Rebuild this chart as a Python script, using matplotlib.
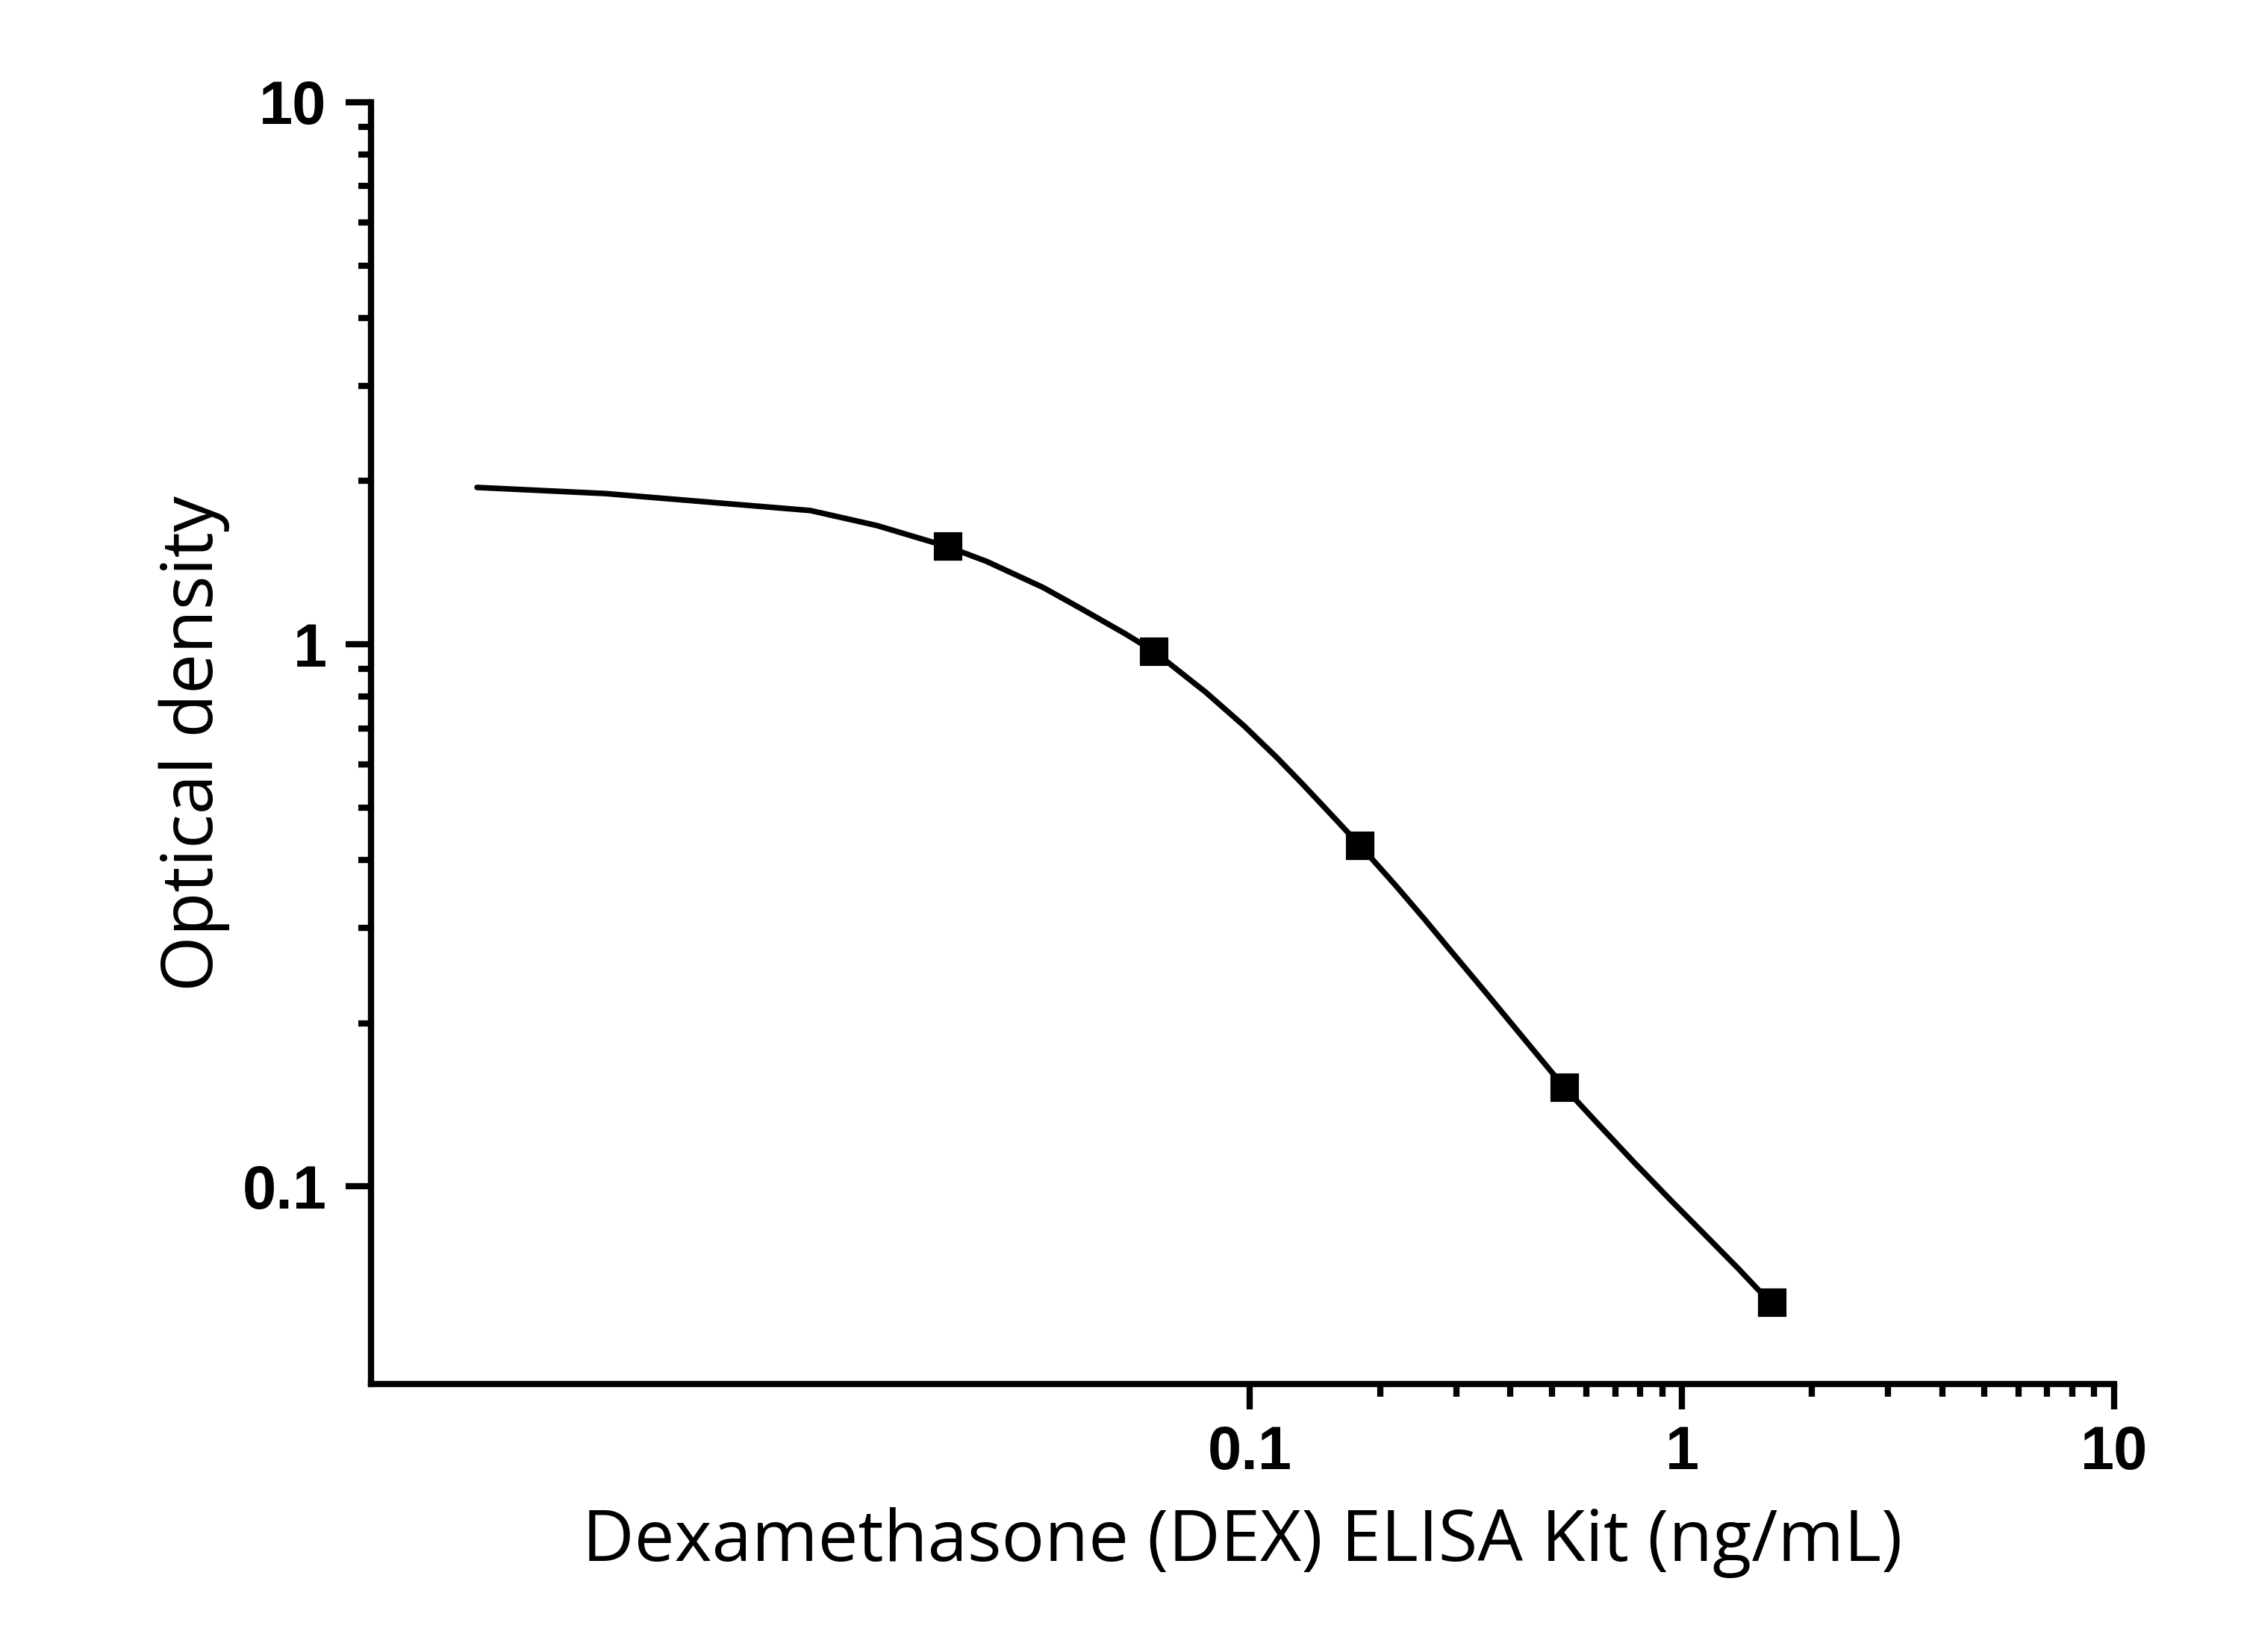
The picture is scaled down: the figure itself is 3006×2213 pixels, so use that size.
import matplotlib
matplotlib.use("Agg")
import matplotlib.pyplot as plt
from matplotlib.ticker import FixedLocator, NullFormatter

# standard points (ng/mL, OD)
conc = [0.02, 0.06, 0.18, 0.535, 1.618]
od = [1.515, 0.97, 0.425, 0.152, 0.061]

# fitted curve
curve_x = [0.001625, 0.00322, 0.00961, 0.01369, 0.0199, 0.02457, 0.0332, 0.0407, 0.0513,
           0.06, 0.0791, 0.0969, 0.1154, 0.131, 0.1488, 0.18, 0.218, 0.2536, 0.295,
           0.3527, 0.422, 0.535, 0.633, 0.775, 0.949, 1.129, 1.353, 1.618]
curve_y = [1.947, 1.897, 1.765, 1.656, 1.515, 1.422, 1.273, 1.163, 1.047,
           0.97, 0.815, 0.707, 0.618, 0.557, 0.500, 0.425, 0.358, 0.311, 0.269,
           0.227, 0.191, 0.152, 0.1315, 0.1107, 0.0937, 0.0815, 0.0704, 0.0605]

x_major = [0.1, 1, 10]
x_labels = ["0.1", "1", "10"]
y_major = [0.1, 1, 10]
y_labels = ["0.1", "1", "10"]

tick_font = "Liberation Sans"
label_font = "Open Sans"

fig = plt.figure(figsize=(10.02, 7.377), dpi=300)
ax = fig.add_axes([0.1653, 0.1622, 0.7768, 0.7759])

ax.plot(curve_x, curve_y, color="black", lw=1.8, solid_capstyle="round", solid_joinstyle="round", zorder=2)
ax.plot(conc, od, ls="none", marker="s", ms=8.2, color="black", zorder=3)

ax.set_xscale("log")
ax.set_yscale("log")
ax.set_xlim(0.000923, 10)
ax.set_ylim(0.0432, 10)

ax.xaxis.set_major_locator(FixedLocator(x_major))
ax.set_xticklabels(x_labels)
ax.yaxis.set_major_locator(FixedLocator(y_major))
ax.set_yticklabels(y_labels)

minor = [m * d for d in (0.1, 1) for m in range(2, 10)]
ax.xaxis.set_minor_locator(FixedLocator(minor))
ax.yaxis.set_minor_locator(FixedLocator(minor))
ax.xaxis.set_minor_formatter(NullFormatter())
ax.yaxis.set_minor_formatter(NullFormatter())

for side in ("top", "right"):
    ax.spines[side].set_visible(False)
for side in ("left", "bottom"):
    ax.spines[side].set_linewidth(2.0)
    ax.spines[side].set_capstyle("projecting")

ax.tick_params(which="major", direction="out", length=8.2, width=2.0)
ax.tick_params(which="minor", direction="out", length=4.0, width=2.0)
ax.tick_params(axis="x", which="major", pad=5)
ax.tick_params(axis="y", which="major", pad=6)

for lab in ax.get_xticklabels() + ax.get_yticklabels():
    lab.set_fontfamily(tick_font)
    lab.set_fontweight("bold")
    lab.set_fontsize(19.5)

ax.set_xlabel("Dexamethasone (DEX) ELISA Kit (ng/mL)", fontfamily=label_font, fontsize=23, labelpad=8)
ax.set_ylabel("Optical density", fontfamily=label_font, fontsize=23, labelpad=4)

fig.savefig("out.png", dpi=300)
